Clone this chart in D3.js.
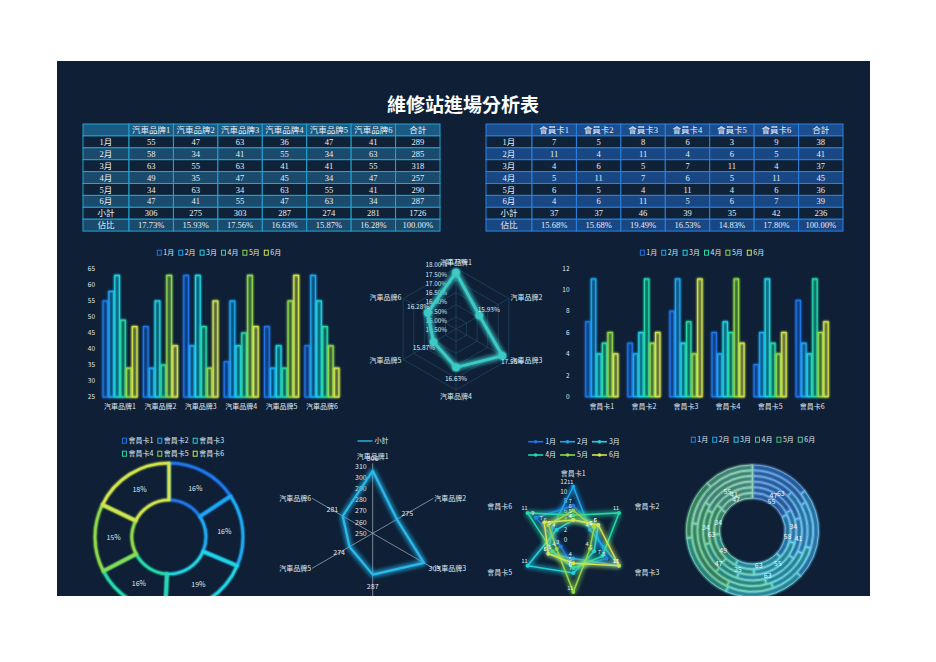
<!DOCTYPE html>
<html><head><meta charset="utf-8">
<script src="https://cdn.jsdelivr.net/npm/d3@7"></script>
<style>
body{margin:0;background:#fff;}
svg{display:block;}
text{font-family:"Noto Sans CJK TC","Noto Sans",sans-serif;}
</style>
</head><body>
<svg id="c" width="936" height="662"></svg>
<script>
// ---------------- DATA ----------------
const title = "維修站進場分析表";
const months = ["1月","2月","3月","4月","5月","6月"];
const brands = ["汽車品牌1","汽車品牌2","汽車品牌3","汽車品牌4","汽車品牌5","汽車品牌6"];
const cards = ["會員卡1","會員卡2","會員卡3","會員卡4","會員卡5","會員卡6"];
// rows = months, columns = brands
const brandM1 = [55,47,63,36,47,41];
const brandM2 = [58,34,41,55,34,63];
const brandM3 = [63,55,63,41,41,55];
const brandM4 = [49,35,47,45,34,47];
const brandM5 = [34,63,34,63,55,41];
const brandM6 = [47,41,55,47,63,34];
// rows = months, columns = cards
const cardM1 = [7,5,8,6,3,9];
const cardM2 = [11,4,11,4,6,5];
const cardM3 = [4,6,5,7,11,4];
const cardM4 = [5,11,7,6,5,11];
const cardM5 = [6,5,4,11,4,6];
const cardM6 = [4,6,11,5,6,7];
const brandTicks = [25,30,35,40,45,50,55,60,65];
const cardTicks = [0,2,4,6,8,10,12];
const pctTicks = [14.5,15,15.5,16,16.5,17,17.5,18];
const totalTicks = [250,260,270,280,290,300,310];
const palette = ["#2274e6","#20a6f0","#22d2e2","#27d8a8","#8ed84c","#d2e44e"];
const ringPalette = ["#2a7fe0","#2aa6e8","#2cc8dc","#30c8a8","#46c078","#5cc29a"];

const brandData = [brandM1,brandM2,brandM3,brandM4,brandM5,brandM6];
const cardData = [cardM1,cardM2,cardM3,cardM4,cardM5,cardM6];

// ---------------- SETUP ----------------
const svg = d3.select("#c");
const defs = svg.append("defs");
function glowFilter(id, sd){
  const f = defs.append("filter").attr("id",id).attr("x","-60%").attr("y","-60%").attr("width","220%").attr("height","220%");
  f.append("feGaussianBlur").attr("in","SourceGraphic").attr("stdDeviation",sd).attr("result","b");
  const m = f.append("feMerge");
  m.append("feMergeNode").attr("in","b");
  m.append("feMergeNode").attr("in","b");
  m.append("feMergeNode").attr("in","SourceGraphic");
}
glowFilter("glow",1.3);
glowFilter("glow2",2.4);
defs.append("clipPath").attr("id","pc").append("rect").attr("x",57).attr("y",61).attr("width",813).attr("height",535);

svg.append("rect").attr("width",936).attr("height",662).attr("fill","#fff");
svg.append("rect").attr("x",57).attr("y",61).attr("width",813).attr("height",535).attr("fill","#0e1f36");
const P = svg.append("g").attr("clip-path","url(#pc)");
const TXT = "#dfe7ef";

P.append("text").attr("x",463).attr("y",112).attr("text-anchor","middle")
  .attr("font-size",19).attr("font-weight",700).attr("fill","#fff").text(title);

// ---------------- TABLES ----------------
const fmtPct = d3.format(".2%");
function drawTable(x0,y0,w0,w,h,header,rows,sty){
  const g = P.append("g");
  const n = header.length;
  const xs = d3.range(n+1).map(i => i===0 ? x0 : x0+w0+(i-1)*w);
  [header,...rows].forEach((row,ri)=>{
    const y = y0+ri*h;
    const fill = ri===0 ? sty.head : (ri%2===1 ? sty.dark : sty.light);
    row.forEach((cell,ci)=>{
      g.append("rect").attr("x",xs[ci]).attr("y",y).attr("width",xs[ci+1]-xs[ci]).attr("height",h)
        .attr("fill",fill).attr("stroke",sty.border).attr("stroke-width",1);
      g.append("text").attr("x",(xs[ci]+xs[ci+1])/2).attr("y",y+h/2+3.1).attr("text-anchor","middle")
        .attr("font-size",8.5).attr("fill","#e8eef6")
        .style("font-family","'Liberation Serif','Noto Sans CJK TC',serif").text(cell);
    });
  });
}
function tableRows(data){
  const rows = months.map((m,i)=>[m, ...data[i], d3.sum(data[i])]);
  const tot = d3.range(6).map(j=>d3.sum(data,r=>r[j]));
  const grand = d3.sum(tot);
  rows.push(["小計", ...tot, grand]);
  rows.push(["佔比", ...tot.map(t=>fmtPct(t/grand)), fmtPct(1)]);
  return rows;
}
drawTable(83,124,46,44.43,11.9,["",...brands,"合計"],tableRows(brandData),
  {head:"#1b5a82",dark:"#0f2238",light:"#1a4a6c",border:"#23a4d4"});
drawTable(486,124,46,44.43,11.9,["",...cards,"合計"],tableRows(cardData),
  {head:"#1c4d8e",dark:"#0f2238",light:"#184784",border:"#2b82de"});

// ---------------- LEGEND HELPER ----------------
function legend(names, colors, cx, y, kind){
  const g = P.append("g");
  const items = names.map((nm,i)=>{
    const it = g.append("g");
    let iw;
    if(kind==="line"){
      iw = 15;
      it.append("line").attr("x1",0).attr("x2",iw).attr("y1",0).attr("y2",0)
        .attr("stroke",colors[i]).attr("stroke-width",1.6);
      it.append("circle").attr("cx",iw/2).attr("cy",0).attr("r",1.8).attr("fill",colors[i]);
    } else if(kind==="plain"){
      iw = 15;
      it.append("line").attr("x1",0).attr("x2",iw).attr("y1",0).attr("y2",0)
        .attr("stroke",colors[i]).attr("stroke-width",1.4);
    } else {
      iw = 4.5;
      it.append("rect").attr("x",0.5).attr("y",-2.8).attr("width",4).attr("height",5)
        .attr("fill","none").attr("stroke",colors[i]).attr("stroke-width",1);
    }
    const t = it.append("text").attr("x",iw+2).attr("y",2.4).attr("font-size",7).attr("fill",TXT).text(nm);
    const w = iw+2+t.node().getComputedTextLength();
    return {it,w};
  });
  const gap = 4;
  const total = d3.sum(items,d=>d.w)+gap*(items.length-1);
  let x = cx-total/2;
  items.forEach(d=>{ d.it.attr("transform",`translate(${x},${y})`); x += d.w+gap; });
}

// ---------------- BAR CHARTS ----------------
function barChart(cats, data, range, pi, po, yDom, yRng, ticks, tickX, legendCx){
  const g = P.append("g");
  const x0 = d3.scaleBand().domain(cats).range(range).paddingInner(pi).paddingOuter(po);
  const x1 = d3.scaleBand().domain(months).range([0,x0.bandwidth()]);
  const y = d3.scaleLinear().domain(yDom).range(yRng);
  ticks.forEach(t=>{
    g.append("text").attr("x",tickX).attr("y",y(t)+2.3).attr("text-anchor","end")
      .attr("font-size",6.5).attr("fill",TXT).text(t);
  });
  cats.forEach((c,ci)=>{
    months.forEach((m,mi)=>{
      const v = data[mi][ci];
      g.append("rect").attr("x",x0(c)+x1(m)+0.6).attr("y",y(v))
        .attr("width",x1.bandwidth()-1.2).attr("height",y(yDom[0])-y(v))
        .attr("fill",palette[mi]).attr("fill-opacity",0.07)
        .attr("stroke",palette[mi]).attr("stroke-width",1.1).attr("filter","url(#glow)");
    });
    g.append("text").attr("x",x0(c)+x0.bandwidth()/2).attr("y",yRng[0]+12)
      .attr("text-anchor","middle").attr("font-size",7).attr("fill",TXT).text(c);
  });
  legend(months, palette, legendCx, 253, "rect");
}
barChart(brands, brandData, [100,342], 0.13, 0.061, [25,65], [397,269], brandTicks, 95, 219);
barChart(cards, cardData, [581,833], 0.21, 0.1, [0,12], [396.7,268.3], cardTicks, 569.5, 702);

// ---------------- RADAR 1 (share %) ----------------
(function(){
  const g = P.append("g");
  const cx = 456, cy = 329, R = 61;
  const tot = d3.range(6).map(j=>d3.sum(brandData,r=>r[j]));
  const grand = d3.sum(tot);
  const pct = tot.map(t=>t/grand*100);
  const r = d3.scaleLinear().domain([14.3,18]).range([0,R]);
  const ang = i => i*2*Math.PI/6;
  const pt = (i,rr) => [cx+rr*Math.sin(ang(i)), cy-rr*Math.cos(ang(i))];
  d3.range(1,6).forEach(k=>{
    g.append("polygon").attr("points",d3.range(6).map(i=>pt(i,R*k/5).join(",")).join(" "))
      .attr("fill","none").attr("stroke","#21425f").attr("stroke-width",0.8);
  });
  d3.range(6).forEach(i=>{
    const p = pt(i,R);
    g.append("line").attr("x1",cx).attr("y1",cy).attr("x2",p[0]).attr("y2",p[1])
      .attr("stroke","#21425f").attr("stroke-width",0.8);
  });
  const ls = d3.scaleLinear().domain([14.5,18]).range([cy+1,cy-64]);
  pctTicks.forEach(t=>{
    g.append("text").attr("x",cx-9).attr("y",ls(t)+2.3).attr("text-anchor","end")
      .attr("font-size",6.3).attr("fill",TXT).text(d3.format(".2f")(t)+"%");
  });
  const pts = pct.map((v,i)=>pt(i,r(v)));
  g.append("polygon").attr("points",pts.map(p=>p.join(",")).join(" "))
    .attr("fill","none").attr("stroke","#3cc9c4").attr("stroke-width",3).attr("stroke-linejoin","round")
    .attr("filter","url(#glow2)");
  pts.forEach(p=>g.append("circle").attr("cx",p[0]).attr("cy",p[1]).attr("r",3.6)
    .attr("fill","#3cc9c4").attr("filter","url(#glow)"));
  pct.forEach((v,i)=>{
    const p = pt(i,r(v)+11);
    g.append("text").attr("x",p[0]).attr("y",p[1]+2.3).attr("text-anchor","middle")
      .attr("font-size",6.5).attr("fill",TXT).text(d3.format(".2f")(v)+"%");
  });
  brands.forEach((b,i)=>{
    const s = Math.sin(ang(i));
    const rr = Math.abs(s)<0.1 ? 67 : 63;
    const p = pt(i,rr);
    g.append("text").attr("x",p[0]).attr("y",p[1]+2.5)
      .attr("text-anchor", s>0.1 ? "start" : (s<-0.1 ? "end" : "middle"))
      .attr("font-size",7).attr("fill",TXT).text(b);
  });
})();

// ---------------- DONUT ----------------
(function(){
  const g = P.append("g");
  const cx = 169, cy = 537, R = 74, r0 = 37;
  const tot = d3.range(6).map(j=>d3.sum(cardData,r=>r[j]));
  const grand = d3.sum(tot);
  const raw = tot.map(t=>t/grand*100);
  const fl = raw.map(Math.floor);
  let rem = 100-d3.sum(fl);
  d3.range(6).sort((a,b)=>(raw[b]-fl[b])-(raw[a]-fl[a])).forEach(i=>{ if(rem>0){fl[i]++;rem--;} });
  const pie = d3.pie().sort(null)(tot);
  const arc = d3.arc().innerRadius(r0).outerRadius(R);
  pie.forEach((d,i)=>{
    g.append("path").attr("d",arc(d)).attr("transform",`translate(${cx},${cy})`)
      .attr("fill","none")
      .attr("stroke",palette[i]).attr("stroke-width",2.2).attr("filter","url(#glow)");
  });
  const la = d3.arc().innerRadius((R+r0)/2).outerRadius((R+r0)/2);
  pie.forEach((d,i)=>{
    const c = la.centroid(d);
    g.append("text").attr("x",cx+c[0]).attr("y",cy+c[1]+2.5).attr("text-anchor","middle")
      .attr("font-size",7).attr("fill",TXT).text(fl[i]+"%");
  });
  legend(cards.slice(0,3), palette.slice(0,3), 173, 441, "rect");
  legend(cards.slice(3), palette.slice(3), 173, 454, "rect");
})();

// ---------------- RADAR 2 (totals) ----------------
(function(){
  const g = P.append("g");
  const cx = 372.7, cy = 533.3, R = 70;
  const tot = d3.range(6).map(j=>d3.sum(brandData,r=>r[j]));
  const r = d3.scaleLinear().domain([250,310]).range([0,67]);
  const ang = i => i*2*Math.PI/6;
  const pt = (i,rr) => [cx+rr*Math.sin(ang(i)), cy-rr*Math.cos(ang(i))];
  d3.range(6).forEach(i=>{
    const p = pt(i,R);
    g.append("line").attr("x1",cx).attr("y1",cy).attr("x2",p[0]).attr("y2",p[1])
      .attr("stroke","#a9b4c0").attr("stroke-width",0.7);
  });
  totalTicks.forEach(t=>{
    g.append("text").attr("x",cx-6).attr("y",cy-r(t)+2.4).attr("text-anchor","end")
      .attr("font-size",7).attr("fill",TXT).text(t);
  });
  brands.forEach((b,i)=>{
    const s = Math.sin(ang(i));
    const mid = Math.abs(s)<0.1;
    const p = pt(i, mid ? 77 : 70);
    g.append("text").attr("x",p[0]+(s>0.1?1:(s<-0.1?-1:0))).attr("y",p[1]+2.5)
      .attr("text-anchor", s>0.1 ? "start" : (s<-0.1 ? "end" : "middle"))
      .attr("font-size",7).attr("fill",TXT).text(b);
  });
  const pts = tot.map((v,i)=>pt(i,r(v)));
  g.append("polygon").attr("points",pts.map(p=>p.join(",")).join(" "))
    .attr("fill","none").attr("stroke","#2cb9ec").attr("stroke-width",2.2).attr("stroke-linejoin","round")
    .attr("filter","url(#glow2)");
  tot.forEach((v,i)=>{
    const p = pt(i,r(v)+12);
    g.append("text").attr("x",p[0]).attr("y",p[1]+2.5).attr("text-anchor","middle")
      .attr("font-size",7).attr("fill",TXT).text(v);
  });
  legend(["小計"], ["#2cb9ec"], 373, 441, "plain");
})();

// ---------------- STAR RADAR (cards by month) ----------------
(function(){
  const g = P.append("g");
  const cx = 573.3, cy = 539.3;
  const r = d3.scaleLinear().domain([0,12]).range([0,57.6]);
  const ang = i => i*2*Math.PI/6;
  const pt = (i,rr) => [cx+rr*Math.sin(ang(i)), cy-rr*Math.cos(ang(i))];
  cardTicks.forEach(t=>{
    g.append("text").attr("x",cx-6).attr("y",cy-r(t)+2.2).attr("text-anchor","end")
      .attr("font-size",6.3).attr("fill",TXT).text(t);
  });
  cards.forEach((c,i)=>{
    const s = Math.sin(ang(i));
    const p = pt(i, 66);
    g.append("text").attr("x",p[0]+(s>0.1?4:(s<-0.1?-4:0))).attr("y",p[1]+2.5)
      .attr("text-anchor", s>0.1 ? "start" : (s<-0.1 ? "end" : "middle"))
      .attr("font-size",7).attr("fill",TXT).text(c);
  });
  cardData.forEach((row,mi)=>{
    const pts = row.map((v,i)=>pt(i,r(v)));
    g.append("polygon").attr("points",pts.map(p=>p.join(",")).join(" "))
      .attr("fill","none").attr("stroke",palette[mi]).attr("stroke-width",1.5)
      .attr("filter","url(#glow2)");
    pts.forEach(p=>g.append("circle").attr("cx",p[0]).attr("cy",p[1]).attr("r",2).attr("fill",palette[mi]));
  });
  cardData.forEach((row,mi)=>{
    row.forEach((v,i)=>{
      const p = pt(i,r(v));
      g.append("text").attr("x",p[0]-3).attr("y",p[1]-2.5).attr("text-anchor","middle")
        .attr("font-size",5.5).attr("fill","#e8eef4").text(v);
    });
  });
  legend(months.slice(0,3), palette.slice(0,3), 574, 441.7, "line");
  legend(months.slice(3), palette.slice(3), 574, 455, "line");
})();

// ---------------- NESTED RINGS (one ring per brand, months as segments) ----------------
(function(){
  const g = P.append("g");
  const cx = 752.5, cy = 531;
  const rb = d3.scaleBand().domain(brands).range([33,66]).paddingInner(0.14);
  const perBrand = brands.map((b,j)=>{ const o={brand:b}; months.forEach((m,mi)=>o[m]=brandData[mi][j]); return o; });
  const stack = d3.stack().keys(months)(perBrand);
  const ringTot = perBrand.map(o=>d3.sum(months,m=>o[m]));
  const arcFor = (d,j) => {
    const a = d3.scaleLinear().domain([0,ringTot[j]]).range([0,2*Math.PI]);
    return d3.arc().innerRadius(rb(brands[j])).outerRadius(rb(brands[j])+rb.bandwidth())
      .startAngle(a(d[0])).endAngle(a(d[1]));
  };
  stack.forEach((layer,mi)=>{
    const light = d3.interpolateRgb(ringPalette[mi],"#ffffff")(0.35);
    layer.forEach((d,j)=>{
      g.append("path").attr("d",arcFor(d,j)()).attr("transform",`translate(${cx},${cy})`)
        .attr("fill",ringPalette[mi]).attr("fill-opacity",0.22)
        .attr("stroke",light).attr("stroke-width",0.8).attr("filter","url(#glow)");
    });
  });
  stack.forEach((layer,mi)=>{
    layer.forEach((d,j)=>{
      if(j>2) return;
      const c = arcFor(d,j).centroid();
      g.append("text").attr("x",cx+c[0]).attr("y",cy+c[1]+2.5).attr("text-anchor","middle")
        .attr("font-size",7).attr("fill","#eef3f8").text(d[1]-d[0]);
    });
  });
  legend(months, ringPalette, 753, 440, "rect");
})();
</script>
</body></html>
